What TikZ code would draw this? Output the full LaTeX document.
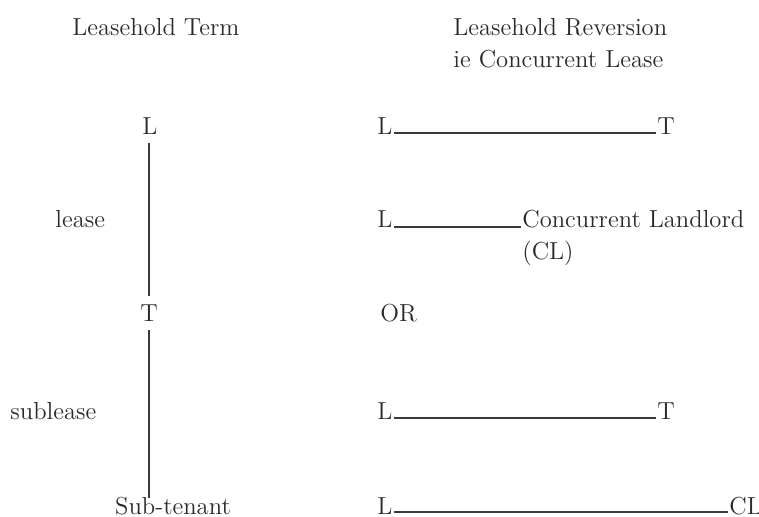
\documentclass[tikz,border=0pt]{standalone}
\usetikzlibrary{calc}
\definecolor{ink}{HTML}{2A2A2A}
\definecolor{rule}{HTML}{3A3A3A}
\begin{document}
\begin{tikzpicture}[x=0.5pt,y=-0.5pt,
  txt/.style={inner sep=0pt,anchor=base west,text=ink,font=\fontsize{12.3}{14}\selectfont},
  ctxt/.style={inner sep=0pt,anchor=base,text=ink,font=\fontsize{12.3}{14}\selectfont},
  vline/.style={draw=rule,line width=0.7pt},
  hline/.style={draw=rule,line width=0.75pt}]
\path[use as bounding box,fill=white] (0,0) rectangle (759,517);
% headings
\node[txt] (h1) at (72,36) {Leasehold Term};
\node[txt] (h2) at (453,36) {Leasehold Reversion};
\node[txt] (h3) at (453,68) {ie Concurrent Lease};
% left column
\node[ctxt] (lL) at (150,135) {L};
\node[ctxt] (lT) at (149,322) {T};
\node[ctxt] (lS) at (173,514) {Sub-tenant};
\node[txt] (lease) at (55,228) {lease};
\node[txt] (sublease) at (10,420) {sublease};
\coordinate (v1a) at (149,143);
\coordinate (v1b) at (149,296);
\coordinate (v2a) at (149,330);
\coordinate (v2b) at (149,498);
\draw[vline] (v1a) -- (v1b);
\draw[vline] (v2a) -- (v2b);
% right column
\node[txt] (r1L) at (377,135) {L};
\node[txt] (r1T) at (657,135) {T};
\draw[hline] ($(r1L.base east)+(1,-2)$) -- ($(r1T.base west)+(-1,-2)$);
\node[txt] (r2L) at (377,228) {L};
\node[txt] (r2CL) at (522,228) {Concurrent Landlord};
\node[txt] (r2c) at (522,260) {(CL)};
\draw[hline] ($(r2L.base east)+(1,-1)$) -- ($(r2CL.base west)+(-1,-1)$);
\node[txt] (or) at (380,322) {OR};
\node[txt] (r3L) at (377,420) {L};
\node[txt] (r3T) at (657,420) {T};
\draw[hline] ($(r3L.base east)+(1,-2)$) -- ($(r3T.base west)+(-1,-2)$);
\node[txt] (r4L) at (377,514) {L};
\node[txt] (r4C) at (729,514) {CL};
\draw[hline] ($(r4L.base east)+(1,-2)$) -- ($(r4C.base west)+(-1,-2)$);
\end{tikzpicture}
\end{document}
